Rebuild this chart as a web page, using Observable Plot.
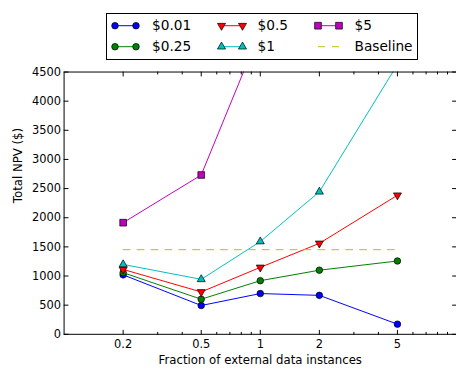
<!DOCTYPE html>
<html><head><meta charset="utf-8">
<script src="https://cdn.jsdelivr.net/npm/d3@7"></script>
<script src="https://cdn.jsdelivr.net/npm/@observablehq/plot@0.6"></script>
<style>
html,body{margin:0;padding:0;background:#fff;overflow:hidden;}
#wrap{position:relative;width:456px;height:380px;overflow:hidden;font-family:"DejaVu Sans",sans-serif;}
#chart{position:absolute;left:0;top:0;}
#legend{position:absolute;left:0;top:0;}
</style></head>
<body><div id="wrap"><div id="chart"></div><svg id="legend" width="456" height="70"></svg></div>
<script>
// ---- data ----
const fractions = [0.2, 0.5, 1, 2, 5];
const seriesNames = ["$0.01", "$0.25", "$0.5", "$1", "$5"];
const npv001 = [1020, 494, 699, 668, 174];
const npv025 = [1057, 602, 920, 1100, 1258];
const npv05 = [1113, 727, 1148, 1560, 2386];
const npv1 = [1199, 943, 1591, 2445, 4630];
const npv5 = [1915, 2733, 5205];
const baselineNPV = 1452;
const baselineLabel = "Baseline";
const yTicks = [0, 500, 1000, 1500, 2000, 2500, 3000, 3500, 4000, 4500];
const xMinorTicks = [0.3, 0.4, 0.6, 0.7, 0.8, 0.9, 3, 4, 6, 7, 8, 9];
const xLabel = "Fraction of external data instances";
const yLabel = "Total NPV ($)";

// ---- styles ----
const colors = ["#0000ff", "#008000", "#ff0000", "#00bfbf", "#bf00bf"];
const baseColor = "#bfbf00";
const symbols = ["circle", "circle", "triangle", "triangle", "square"];
const symRot = [0, 0, 180, 0, 0];
const symR = [3.3, 3.3, 3.0, 3.0, 3.8];

const values = [npv001, npv025, npv05, npv1, npv5];
const rows = values.map((vals, i) => vals.map((v, j) => ({series: seriesNames[i], x: fractions[j], y: v})));
const baseRows = d3.extent(fractions).map(x => ({x, y: baselineNPV}));

const tickShape = {draw(ctx, l) { ctx.moveTo(0, 0); ctx.lineTo(0, -l); }};

const marks = [];
rows.forEach((r, i) => {
  marks.push(Plot.line(r, {x: "x", y: "y", stroke: colors[i], strokeWidth: 1, clip: true}));
  marks.push(Plot.dot(r, {x: "x", y: "y", symbol: symbols[i], r: symR[i], rotate: symRot[i],
    fill: colors[i], stroke: "#000", strokeWidth: 0.7, clip: true}));
});
marks.push(Plot.line(baseRows, {x: "x", y: "y", stroke: baseColor, strokeWidth: 1, strokeDasharray: "7,7"}));

// inward ticks
const vt = (data, opts) => Plot.vector(data, {shape: tickShape, anchor: "start", stroke: "#000", strokeWidth: 1, ...opts});
marks.push(vt(fractions, {x: d => d, frameAnchor: "bottom", rotate: 0, length: 4}));
marks.push(vt(xMinorTicks, {x: d => d, frameAnchor: "bottom", rotate: 0, length: 2}));
marks.push(vt(fractions, {x: d => d, frameAnchor: "top", rotate: 180, length: 4}));
marks.push(vt(xMinorTicks, {x: d => d, frameAnchor: "top", rotate: 180, length: 2}));
marks.push(vt(yTicks, {y: d => d, frameAnchor: "left", rotate: 90, length: 4}));
marks.push(vt(yTicks, {y: d => d, frameAnchor: "right", rotate: -90, length: 4}));

// tick labels
marks.push(Plot.text(fractions, {x: d => d, text: d => String(d), frameAnchor: "bottom", lineAnchor: "top", dy: 6, fontSize: 11.5}));
marks.push(Plot.text(yTicks, {y: d => d, text: d => String(d), frameAnchor: "left", textAnchor: "end", dx: -3, fontSize: 11.5}));
marks.push(Plot.frame({stroke: "#000", strokeWidth: 1}));
marks.push(Plot.text([xLabel], {text: d => d, frameAnchor: "bottom", lineAnchor: "top", dy: 22, fontSize: 11.8}));
marks.push(Plot.text([yLabel], {text: d => d, frameAnchor: "left", rotate: -90, dx: -46, fontSize: 11.8}));

const chart = Plot.plot({
  width: 459, height: 380,
  marginTop: 72, marginBottom: 44, marginLeft: 64, marginRight: 0,
  x: {type: "log", domain: [0.1, 10], axis: null},
  y: {domain: [0, 4500], axis: null},
  style: {fontFamily: "DejaVu Sans", fontSize: "11.5px", color: "#000", background: "#fff", overflow: "visible"},
  marks
});
document.getElementById("chart").appendChild(chart);

// ---- legend ----
const lg = d3.select("#legend");
lg.append("rect").attr("x", 106.5).attr("y", 13.5).attr("width", 311).attr("height", 46)
  .attr("fill", "#fff").attr("stroke", "#000").attr("stroke-width", 1);
const colX = [115, 221.5, 318], colT = [152, 257.5, 354.5], rowY = [25.7, 46.7], mLen = 21;
const entries = seriesNames.map((s, i) => ({label: s, i})).concat([{label: baselineLabel, i: -1}]);
const symMap = {circle: d3.symbolCircle, triangle: d3.symbolTriangle, square: d3.symbolSquare};
entries.forEach((e, k) => {
  const c = Math.floor(k / 2), rr = k % 2;
  const x0 = colX[c], y0 = rowY[rr];
  if (e.i >= 0) {
    lg.append("line").attr("x1", x0).attr("x2", x0 + mLen).attr("y1", y0).attr("y2", y0)
      .attr("stroke", colors[e.i]).attr("stroke-width", 1);
    const path = d3.symbol(symMap[symbols[e.i]], Math.PI * symR[e.i] ** 2)();
    [x0, x0 + mLen].forEach(x => lg.append("path").attr("d", path)
      .attr("transform", `translate(${x},${y0}) rotate(${symRot[e.i]})`)
      .attr("fill", colors[e.i]).attr("stroke", "#000").attr("stroke-width", 0.7));
  } else {
    lg.append("line").attr("x1", x0).attr("x2", x0 + mLen).attr("y1", y0).attr("y2", y0)
      .attr("stroke", baseColor).attr("stroke-width", 1).attr("stroke-dasharray", "7,7");
  }
  lg.append("text").attr("x", colT[c]).attr("y", y0).attr("dy", "0.35em")
    .attr("font-family", "DejaVu Sans").attr("font-size", 13.7).attr("fill", "#000").text(e.label);
});
</script>
</body></html>
